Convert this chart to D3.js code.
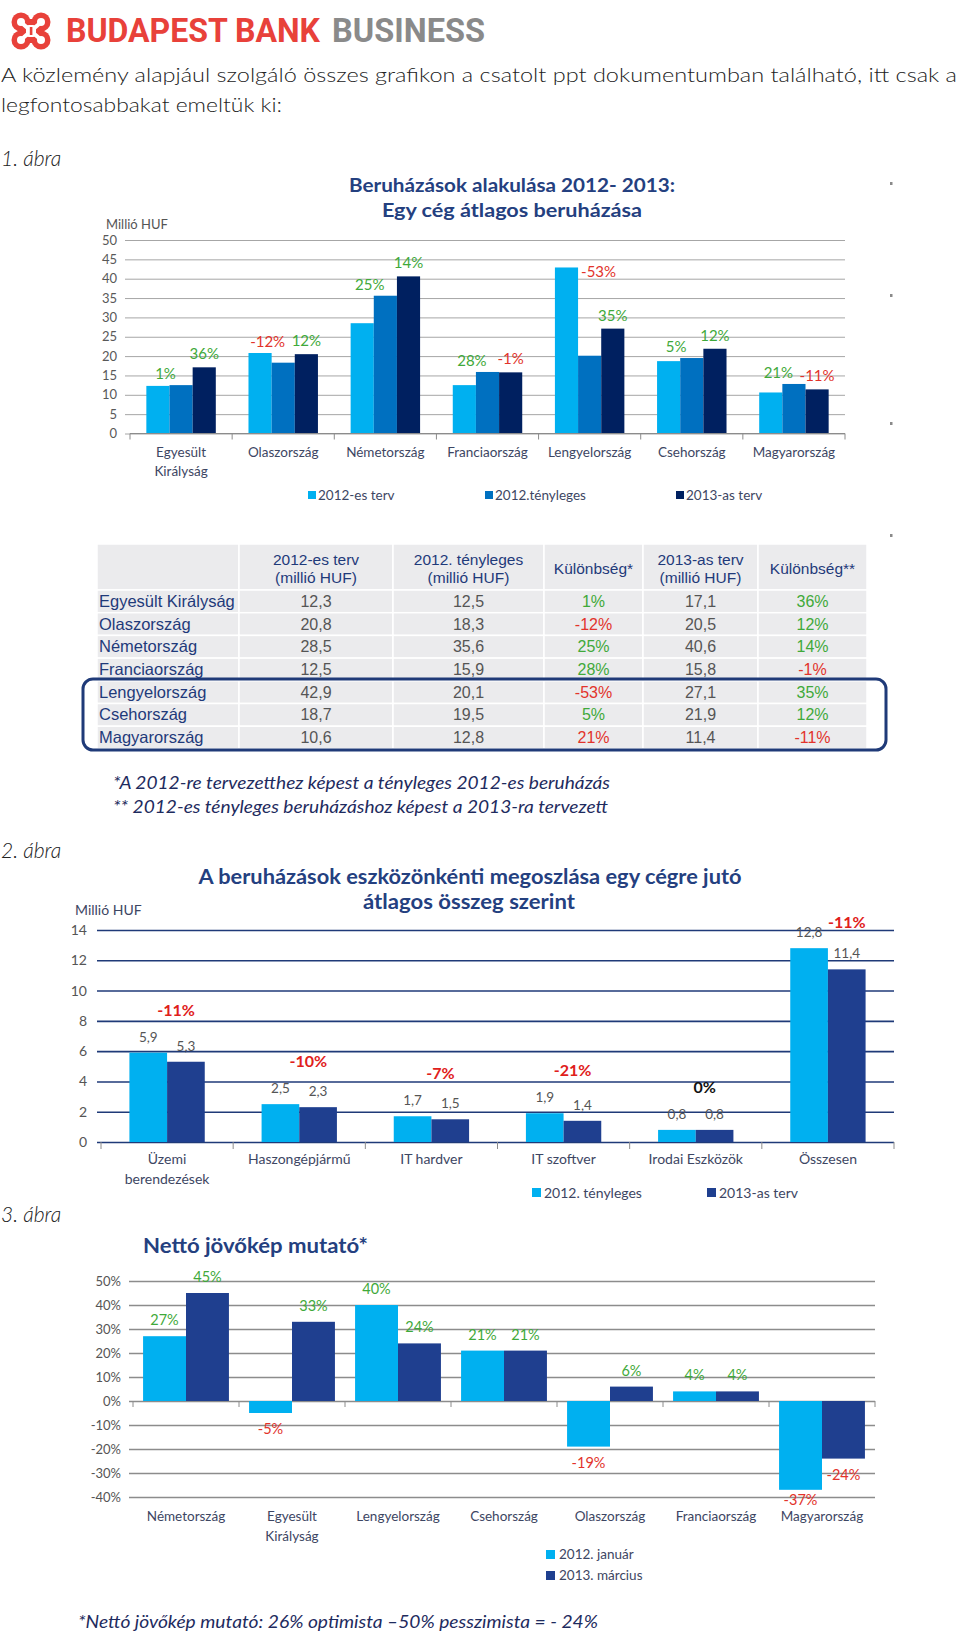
<!DOCTYPE html>
<html><head><meta charset="utf-8">
<script src="https://cdn.jsdelivr.net/npm/d3@7"></script>
<style>body{margin:0;background:#fff}</style>
</head><body><svg id="c" width="960" height="1635"></svg>
<script>
// ---------------- DATA ----------------
const introLines = ["A közlemény alapjául szolgáló összes grafikon a csatolt ppt dokumentumban található, itt csak a", "legfontosabbakat emeltük ki:"];

// Chart 1 + table
const c1Title = ["Beruházások alakulása 2012- 2013:", "Egy cég átlagos beruházása"];
const c1Categories = [["Egyesült","Királyság"],["Olaszország"],["Németország"],["Franciaország"],["Lengyelország"],["Csehország"],["Magyarország"]];
const c1TableNames = ["Egyesült Királyság","Olaszország","Németország","Franciaország","Lengyelország","Csehország","Magyarország"];
const c1Plan2012 = [12.3, 20.8, 28.5, 12.5, 42.9, 18.7, 10.6];
const c1Actual2012 = [12.5, 18.3, 35.6, 15.9, 20.1, 19.5, 12.8];
const c1Plan2013 = [17.1, 20.5, 40.6, 15.8, 27.1, 21.9, 11.4];
const c1Diff1 = [1, -12, 25, 28, -53, 5, 21];
const c1Diff2 = [36, 12, 14, -1, 35, 12, -11];
const c1Series = ["2012-es terv", "2012.tényleges", "2013-as terv"];
const c1Ticks = [0, 5, 10, 15, 20, 25, 30, 35, 40, 45, 50];
const tableHeaders = [["2012-es terv","(millió HUF)"],["2012. tényleges","(millió HUF)"],["Különbség*"],["2013-as terv","(millió HUF)"],["Különbség**"]];
const tableAlertRow = "Magyarország"; // its Különbség* is shown in red in the table
const c1Notes = ["*A 2012-re tervezetthez képest a tényleges 2012-es beruházás", "** 2012-es tényleges beruházáshoz képest a 2013-ra tervezett"];

// Chart 2
const c2Title = ["A beruházások eszközönkénti megoszlása egy cégre jutó", "átlagos összeg szerint"];
const c2Categories = [["Üzemi","berendezések"],["Haszongépjármű"],["IT hardver"],["IT szoftver"],["Irodai Eszközök"],["Összesen"]];
const c2Actual2012 = [5.9, 2.5, 1.7, 1.9, 0.8, 12.8];
const c2Plan2013 = [5.3, 2.3, 1.5, 1.4, 0.8, 11.4];
const c2Diff = [-11, -10, -7, -21, 0, -11];
const c2Series = ["2012. tényleges", "2013-as terv"];
const c2Ticks = [0, 2, 4, 6, 8, 10, 12, 14];

// Chart 3
const c3Title = "Nettó jövőkép mutató*";
const c3Categories = [["Németország"],["Egyesült","Királyság"],["Lengyelország"],["Csehország"],["Olaszország"],["Franciaország"],["Magyarország"]];
const c3Jan2012 = [27, -5, 40, 21, -19, 4, -37];
const c3Mar2013 = [45, 33, 24, 21, 6, 4, -24];
const c3Series = ["2012. január", "2013. március"];
const c3Ticks = [-40, -30, -20, -10, 0, 10, 20, 30, 40, 50];
const c3Note = "*Nettó jövőkép mutató:  26% optimista –50% pesszimista = - 24%";

// ---------------- STYLE ----------------
const LIGHT = "#00b0f0", MID = "#0070c0", NAVY = "#002060", ROYAL = "#1f3f8f";
const GREEN = "#3fa93a", RED = "#e2332b", TITLE = "#24407f";
const FONT = "Lato, 'Open Sans', sans-serif";
const TFONT = "'Liberation Sans', Arial, sans-serif";
const comma = v => d3.format(".1f")(v).replace(".", ",");
const pct = v => v + "%";

const svg = d3.select("#c");
svg.append("rect").attr("width", 960).attr("height", 1635).attr("fill", "#fff");

// ---------------- HEADER ----------------
const logo = svg.append("g").attr("transform", "translate(12,13)");
[[9,9],[29,9],[9,27],[29,27]].forEach(([cx,cy]) => logo.append("circle").attr("cx",cx).attr("cy",cy).attr("r",9.5).attr("fill","#e8413a"));
logo.append("rect").attr("x",6).attr("y",6).attr("width",26).attr("height",24).attr("fill","#e8413a");
[[9,9],[29,9],[9,27],[29,27]].forEach(([cx,cy]) => logo.append("circle").attr("cx",cx).attr("cy",cy).attr("r",4).attr("fill","#fff"));
logo.append("path").attr("d","M11,11 L27,25 M27,11 L11,25").attr("stroke","#fff").attr("stroke-width",4);
logo.append("rect").attr("x",14).attr("y",12).attr("width",10).attr("height",12).attr("rx",3).attr("fill","#fff");
logo.append("rect").attr("x",17.8).attr("y",14).attr("width",2.6).attr("height",8).attr("fill","#e8413a");

svg.append("text").attr("x",66).attr("y",42).attr("font-family","Roboto, 'DejaVu Sans', sans-serif").attr("font-weight",700)
  .attr("font-size",33).attr("fill","#e8413a").attr("textLength",254).attr("lengthAdjust","spacingAndGlyphs").text("BUDAPEST BANK");
svg.append("text").attr("x",332).attr("y",42).attr("font-family","Roboto, 'DejaVu Sans', sans-serif").attr("font-weight",700)
  .attr("font-size",33).attr("fill","#8a8a8a").attr("textLength",153).attr("lengthAdjust","spacingAndGlyphs").text("BUSINESS");

svg.append("text").attr("x",1).attr("y",82).attr("font-family",FONT).attr("font-weight",300).attr("font-size",20).attr("fill","#222")
  .attr("textLength",956).attr("lengthAdjust","spacingAndGlyphs").text(introLines[0]);
svg.append("text").attr("x",1).attr("y",112).attr("font-family",FONT).attr("font-weight",300).attr("font-size",20).attr("fill","#222")
  .attr("textLength",281).attr("lengthAdjust","spacingAndGlyphs").text(introLines[1]);

function abra(label, y) {
  svg.append("text").attr("x",1).attr("y",y).attr("font-family",FONT).attr("font-style","italic").attr("font-weight",300)
    .attr("font-size",21).attr("fill","#222").text(label);
}
abra("1. ábra", 166);
abra("2. ábra", 858);
abra("3. ábra", 1222);

// decorative side marks
[182, 294, 422, 534].forEach(y => svg.append("rect").attr("x",890).attr("y",y).attr("width",2.5).attr("height",3).attr("fill","#8a8a8a"));

function multiLine(sel, lines, lh) {
  lines.forEach((l, i) => sel.append("tspan").attr("x", sel.attr("x")).attr("dy", i === 0 ? 0 : lh).text(l));
}

// ---------------- CHART 1 ----------------
{
  const g = svg.append("g");
  g.append("text").attr("x",512).attr("y",192).attr("text-anchor","middle").attr("font-family",FONT).attr("font-weight",700)
    .attr("font-size",19).attr("fill",TITLE).attr("textLength",326).attr("lengthAdjust","spacingAndGlyphs").text(c1Title[0]);
  g.append("text").attr("x",512).attr("y",217).attr("text-anchor","middle").attr("font-family",FONT).attr("font-weight",700)
    .attr("font-size",19).attr("fill",TITLE).attr("textLength",260).attr("lengthAdjust","spacingAndGlyphs").text(c1Title[1]);
  g.append("text").attr("x",106).attr("y",229).attr("font-family",FONT).attr("font-size",13).attr("fill","#555").text("Millió HUF");

  const x0 = 130, x1 = 845;
  const y = d3.scaleLinear().domain([0, 50]).range([433.5, 240]);
  const x = d3.scaleBand().domain(d3.range(c1Categories.length)).range([x0, x1]).paddingInner(0.32).paddingOuter(0.16);
  const xs = d3.scaleBand().domain([0, 1, 2]).range([0, x.bandwidth()]);
  const series = [c1Plan2012, c1Actual2012, c1Plan2013];
  const colors = [LIGHT, MID, NAVY];

  const ax = g.append("g").attr("transform", `translate(${x0},0)`)
    .call(d3.axisLeft(y).tickValues(c1Ticks).tickSize(-(x1 - x0)).tickPadding(13));
  ax.select(".domain").remove();
  ax.selectAll(".tick line").attr("stroke","#a6a6a6").attr("x1",-5);
  ax.selectAll(".tick text").attr("font-family",FONT).attr("font-size",13).attr("fill","#595959");

  series.forEach((vals, s) => {
    g.selectAll(null).data(vals).enter().append("rect")
      .attr("x", (d, i) => x(i) + xs(s)).attr("width", xs.bandwidth())
      .attr("y", d => y(d)).attr("height", d => y(0) - y(d)).attr("fill", colors[s]);
  });
  // x axis
  g.append("line").attr("x1",x0).attr("x2",x1).attr("y1",y(0)).attr("y2",y(0)).attr("stroke","#8c8c8c");
  d3.range(c1Categories.length + 1).forEach(i => {
    const xx = x0 + i * x.step();
    g.append("line").attr("x1",xx).attr("x2",xx).attr("y1",y(0)).attr("y2",y(0)+6).attr("stroke","#8c8c8c");
  });
  c1Categories.forEach((lines, i) => {
    const t = g.append("text").attr("x", x(i) + x.bandwidth()/2).attr("y", 457).attr("text-anchor","middle")
      .attr("font-family",FONT).attr("font-size",13.5).attr("fill","#3d4663");
    multiLine(t, lines, 19);
  });
  // difference labels
  c1Diff1.forEach((d, i) => {
    const a = c1Plan2012[i], b = c1Actual2012[i];
    const t = g.append("text").attr("font-family",FONT).attr("font-size",15).attr("fill", d < 0 ? RED : GREEN).text(pct(d));
    if (a > 1.5 * b) {
      t.attr("x", x(i) + xs(1) + 3).attr("y", y(a) + 10).attr("text-anchor","start");
    } else {
      t.attr("x", x(i) + xs(1) - 4).attr("y", y(Math.max(a, b)) - 6).attr("text-anchor","middle");
    }
  });
  c1Diff2.forEach((d, i) => {
    g.append("text").attr("x", x(i) + xs(2) + xs.bandwidth()/2).attr("y", y(c1Plan2013[i]) - 8)
      .attr("text-anchor","middle").attr("font-family",FONT).attr("font-size",15).attr("fill", d < 0 ? RED : GREEN).text(pct(d));
  });
  // legend
  const lx = [308, 485, 676];
  c1Series.forEach((s, i) => {
    g.append("rect").attr("x", lx[i]).attr("y", 491).attr("width", 8).attr("height", 8).attr("fill", colors[i]);
    g.append("text").attr("x", lx[i] + 10).attr("y", 500).attr("font-family",FONT).attr("font-size",13.5).attr("fill","#3d4663").text(s);
  });
}

// ---------------- TABLE ----------------
{
  const g = svg.append("g");
  const cols = [97, 239, 393, 544, 643, 758, 867];
  const top = 544, headH = 46, rowH = 22.7;
  const cell = (x, yy, w, h) => g.append("rect").attr("x", x).attr("y", yy).attr("width", w).attr("height", h)
    .attr("fill", "#ebebed").attr("stroke", "#fff").attr("stroke-width", 1.5);
  for (let c = 0; c < 6; c++) cell(cols[c], top, cols[c+1] - cols[c], headH);
  c1TableNames.forEach((n, r) => { for (let c = 0; c < 6; c++) cell(cols[c], top + headH + r * rowH, cols[c+1] - cols[c], rowH); });

  tableHeaders.forEach((lines, c) => {
    const cx = (cols[c+1] + cols[c+2]) / 2;
    const t = g.append("text").attr("x", cx).attr("y", lines.length === 2 ? 565 : 574).attr("text-anchor","middle")
      .attr("font-family",TFONT).attr("font-size",15.5).attr("fill","#1f3a7a");
    multiLine(t, lines, 18);
  });
  c1TableNames.forEach((n, r) => {
    const yy = top + headH + r * rowH + rowH / 2 + 5.5;
    g.append("text").attr("x", 99).attr("y", yy).attr("font-family",TFONT).attr("font-size",16.5).attr("fill","#1f3a7a").text(n);
    const vals = [comma(c1Plan2012[r]), comma(c1Actual2012[r]), pct(c1Diff1[r]), comma(c1Plan2013[r]), pct(c1Diff2[r])];
    const fills = ["#555", "#555", (c1Diff1[r] < 0 || n === tableAlertRow) ? RED : GREEN, "#555", c1Diff2[r] < 0 ? RED : GREEN];
    vals.forEach((v, c) => {
      g.append("text").attr("x", (cols[c+1] + cols[c+2]) / 2).attr("y", yy).attr("text-anchor","middle")
        .attr("font-family",TFONT).attr("font-size",16).attr("fill",fills[c]).text(v);
    });
  });
  g.append("rect").attr("x",83).attr("y",679).attr("width",803).attr("height",71).attr("rx",10)
    .attr("fill","none").attr("stroke","#1f3a78").attr("stroke-width",3);

  c1Notes.forEach((n, i) => {
    g.append("text").attr("x",113).attr("y",789 + i * 24).attr("font-family",FONT).attr("font-style","italic")
      .attr("font-size",17).attr("fill","#1e2b5e").attr("textLength", i === 0 ? 497 : 495).attr("lengthAdjust","spacingAndGlyphs").text(n);
  });
}

// ---------------- CHART 2 ----------------
{
  const g = svg.append("g");
  g.append("text").attr("x",470).attr("y",884).attr("text-anchor","middle").attr("font-family",FONT).attr("font-weight",700)
    .attr("font-size",20).attr("fill",TITLE).attr("textLength",543).attr("lengthAdjust","spacingAndGlyphs").text(c2Title[0]);
  g.append("text").attr("x",469).attr("y",909).attr("text-anchor","middle").attr("font-family",FONT).attr("font-weight",700)
    .attr("font-size",20).attr("fill",TITLE).attr("textLength",212).attr("lengthAdjust","spacingAndGlyphs").text(c2Title[1]);
  g.append("text").attr("x",75).attr("y",915).attr("font-family",FONT).attr("font-size",14).attr("fill","#3d4663").text("Millió HUF");

  const x0 = 101, x1 = 894;
  const y = d3.scaleLinear().domain([0, 14]).range([1142, 930]);
  const x = d3.scaleBand().domain(d3.range(c2Categories.length)).range([x0, x1]).paddingInner(0.43).paddingOuter(0.215);
  const xs = d3.scaleBand().domain([0, 1]).range([0, x.bandwidth()]);
  const series = [c2Actual2012, c2Plan2013];
  const colors = [LIGHT, ROYAL];

  const ax = g.append("g").attr("transform", `translate(${x0},0)`)
    .call(d3.axisLeft(y).tickValues(c2Ticks).tickSize(-(x1 - x0)).tickPadding(14));
  ax.select(".domain").remove();
  ax.selectAll(".tick line").attr("stroke","#1f3a78").attr("stroke-width",1.6).attr("x1",-4);
  ax.selectAll(".tick text").attr("font-family",FONT).attr("font-size",14).attr("fill","#555");

  series.forEach((vals, s) => {
    g.selectAll(null).data(vals).enter().append("rect")
      .attr("x", (d, i) => x(i) + xs(s)).attr("width", xs.bandwidth())
      .attr("y", d => y(d)).attr("height", d => y(0) - y(d)).attr("fill", colors[s]);
    vals.forEach((d, i) => {
      g.append("text").attr("x", x(i) + xs(s) + xs.bandwidth()/2).attr("y", y(d) - 11).attr("text-anchor","middle")
        .attr("font-family",FONT).attr("font-size",13.5).attr("fill","#555").text(comma(d));
    });
  });
  d3.range(c2Categories.length + 1).forEach(i => {
    const xx = x0 + i * x.step();
    g.append("line").attr("x1",xx).attr("x2",xx).attr("y1",y(0)).attr("y2",y(0)+7).attr("stroke","#8c8c8c");
  });
  c2Diff.forEach((d, i) => {
    const want = y(Math.max(c2Actual2012[i], c2Plan2013[i])) - 37;
    const clamped = want < y(14) - 2;
    g.append("text")
      .attr("x", clamped ? x(i) + xs(1) + xs.bandwidth()/2 : x(i) + x.bandwidth()/2 + 9)
      .attr("y", clamped ? y(14) - 2 : want)
      .attr("text-anchor","middle").attr("font-family",FONT).attr("font-weight",700).attr("font-size",16)
      .attr("fill", d < 0 ? "#e0201b" : "#111").text(pct(d));
  });
  c2Categories.forEach((lines, i) => {
    const t = g.append("text").attr("x", x(i) + x.bandwidth()/2).attr("y", 1164).attr("text-anchor","middle")
      .attr("font-family",FONT).attr("font-size",14).attr("fill","#3d4663");
    multiLine(t, lines, 20);
  });
  const lx = [532, 707];
  c2Series.forEach((s, i) => {
    g.append("rect").attr("x", lx[i]).attr("y", 1188).attr("width", 9).attr("height", 9).attr("fill", colors[i]);
    g.append("text").attr("x", lx[i] + 12).attr("y", 1198).attr("font-family",FONT).attr("font-size",14).attr("fill","#3d4663").text(s);
  });
}

// ---------------- CHART 3 ----------------
{
  const g = svg.append("g");
  g.append("text").attr("x",143).attr("y",1253).attr("font-family",FONT).attr("font-weight",700)
    .attr("font-size",20).attr("fill",TITLE).attr("textLength",225).attr("lengthAdjust","spacingAndGlyphs").text(c3Title);

  const x0 = 133, x1 = 875;
  const y = d3.scaleLinear().domain([-40, 50]).range([1497, 1281]);
  const x = d3.scaleBand().domain(d3.range(c3Categories.length)).range([x0, x1]).paddingInner(0.19).paddingOuter(0.095);
  const xs = d3.scaleBand().domain([0, 1]).range([0, x.bandwidth()]);
  const series = [c3Jan2012, c3Mar2013];
  const colors = [LIGHT, ROYAL];

  const ax = g.append("g").attr("transform", `translate(${x0},0)`)
    .call(d3.axisLeft(y).tickValues(c3Ticks).tickSize(-(x1 - x0)).tickPadding(12).tickFormat(pct));
  ax.select(".domain").remove();
  ax.selectAll(".tick line").attr("stroke","#8c8c8c").attr("stroke-width",1.5).attr("x1",-4);
  ax.selectAll(".tick text").attr("font-family",FONT).attr("font-size",13).attr("fill","#555");

  series.forEach((vals, s) => {
    g.selectAll(null).data(vals).enter().append("rect")
      .attr("x", (d, i) => x(i) + xs(s)).attr("width", xs.bandwidth())
      .attr("y", d => y(Math.max(0, d))).attr("height", d => Math.abs(y(d) - y(0))).attr("fill", colors[s]);
    vals.forEach((d, i) => {
      g.append("text").attr("x", x(i) + xs(s) + xs.bandwidth()/2)
        .attr("y", d >= 0 ? y(d) - 11 : Math.min(y(d) + 21, y(-40) + 8))
        .attr("text-anchor","middle").attr("font-family",FONT).attr("font-size",14.5)
        .attr("fill", d < 0 ? RED : GREEN).text(pct(d));
    });
  });
  d3.range(c3Categories.length + 1).forEach(i => {
    const xx = x0 + i * x.step();
    g.append("line").attr("x1",xx).attr("x2",xx).attr("y1",y(0)).attr("y2",y(0)+6).attr("stroke","#8c8c8c");
  });
  c3Categories.forEach((lines, i) => {
    const t = g.append("text").attr("x", x(i) + x.bandwidth()/2).attr("y", 1521).attr("text-anchor","middle")
      .attr("font-family",FONT).attr("font-size",13.5).attr("fill","#3d4663");
    multiLine(t, lines, 20);
  });
  c3Series.forEach((s, i) => {
    g.append("rect").attr("x", 546).attr("y", 1550 + i * 21).attr("width", 9).attr("height", 9).attr("fill", colors[i]);
    g.append("text").attr("x", 559).attr("y", 1559 + i * 21).attr("font-family",FONT).attr("font-size",13.5).attr("fill","#3d4663").text(s);
  });
  g.append("text").attr("x",78).attr("y",1628).attr("font-family",FONT).attr("font-style","italic")
    .attr("font-size",17).attr("fill","#1e2b5e").attr("textLength",520).attr("lengthAdjust","spacingAndGlyphs").text(c3Note);
}
</script></body></html>
